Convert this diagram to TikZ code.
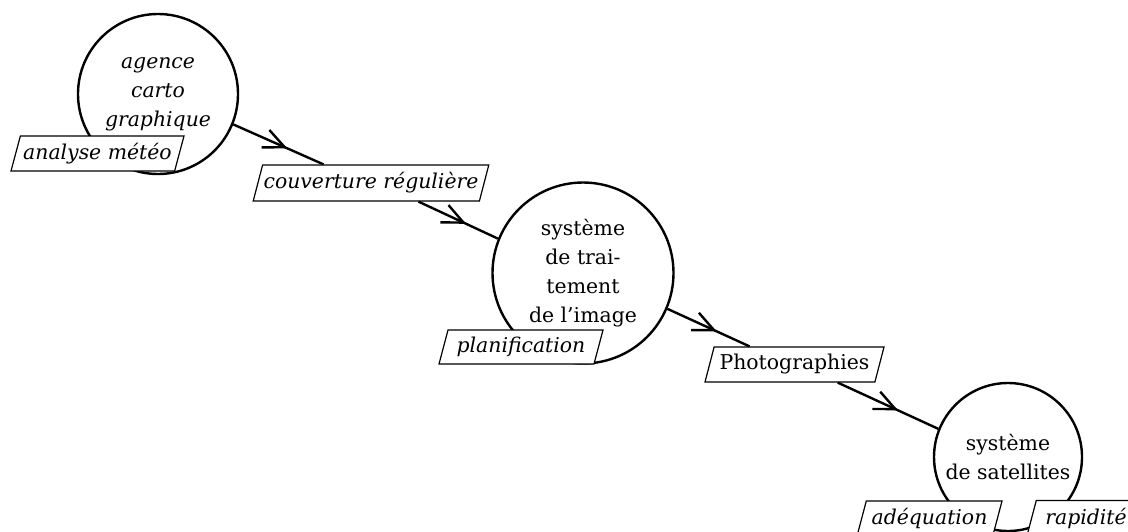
\documentclass[tikz,border=0pt]{standalone}
\usepackage{fontspec}
\setmainfont{DejaVu Serif}
\usetikzlibrary{shapes.geometric,arrows.meta,decorations.markings,calc}
\tikzset{
  txt/.style={font=\fontsize{10.2}{14.5}\selectfont},
  ittxt/.style={font=\fontsize{10.2}{14.5}\selectfont\itshape},
  proc/.style={circle, draw, line width=1.2pt, inner sep=0pt, align=center},
  flow/.style={trapezium, trapezium left angle=72, trapezium right angle=108,
    trapezium stretches body, draw, line width=0.6pt, fill=white,
    inner xsep=0.5pt, inner ysep=2pt, minimum height=17.5pt},
  conn/.style={line width=1.2pt, postaction={decorate},
    decoration={markings, mark=at position 0.6 with {\arrow{Straight Barb[length=10.5pt,width=9.5pt]}}}},
}
\begin{document}
\begin{tikzpicture}[x=0.5pt,y=-0.5pt]
\useasboundingbox (0,0) rectangle (1128,531);
% processes
\node[proc, ittxt, minimum size=80pt] (c1) at (158,94) {agence\\carto\\graphique};
\node[proc, txt, minimum size=90.5pt] (c2) at (583,273) {système\\de trai-\\tement\\de l’image};
\node[proc, txt, minimum size=74pt] (c3) at (1008,457) {système\\de satellites};
% flows / labels
\node[flow, ittxt, minimum width=86.5pt] (am) at (97.5,153.5) {analyse météo};
\node[flow, ittxt, minimum width=109pt, minimum height=18pt] (cr) at (371,183) {couverture régulière};
\node[flow, ittxt, minimum width=82pt, minimum height=17pt] (pl) at (521,347) {planification};
\node[flow, txt, minimum width=89.5pt] (ph) at (794.5,364.5) {Photographies};
\node[flow, ittxt, minimum width=72.5pt] (ad) at (929.5,518.5) {adéquation};
\node[flow, ittxt, minimum width=59pt] (ra) at (1086,518) {rapidité};
% connectors
\draw[conn] (c1.-22.5) -- ($(cr.top left corner)!0.27!(cr.top right corner)$);
\draw[conn] ($(cr.bottom left corner)!0.73!(cr.bottom right corner)$) -- (c2.158);
\draw[conn] (c2.-23.5) -- ($(ph.top left corner)!0.21!(ph.top right corner)$);
\draw[conn] ($(ph.bottom left corner)!0.78!(ph.bottom right corner)$) -- (c3.158);
\end{tikzpicture}
\end{document}
